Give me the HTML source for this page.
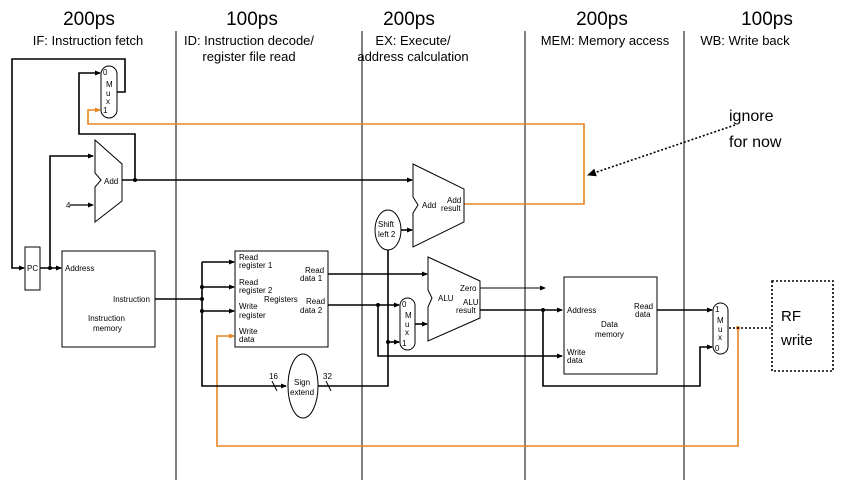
<!DOCTYPE html>
<html><head><meta charset="utf-8"><style>
html,body{margin:0;padding:0;background:#fff;}
svg{display:block;font-family:"Liberation Sans",sans-serif;}
.s{font-size:8px;fill:#000;}
</style></head><body>
<svg width="842" height="491" viewBox="0 0 842 491" xmlns="http://www.w3.org/2000/svg">
<defs>
<marker id="a" markerWidth="6" markerHeight="6" refX="5" refY="3" orient="auto" markerUnits="userSpaceOnUse"><path d="M0,0.5 L6,3 L0,5.5z" fill="#000"/></marker>
<marker id="o" markerWidth="6" markerHeight="6" refX="5" refY="3" orient="auto" markerUnits="userSpaceOnUse"><path d="M0,0.5 L6,3 L0,5.5z" fill="#e8861f"/></marker>
<marker id="d" markerWidth="10" markerHeight="10" refX="8" refY="5" orient="auto" markerUnits="userSpaceOnUse"><path d="M0,1 L9,5 L0,9z" fill="#000"/></marker>
</defs>
<!-- headers -->
<g font-size="19" text-anchor="middle">
<text x="89" y="25">200ps</text><text x="252" y="25">100ps</text><text x="409" y="25">200ps</text><text x="602" y="25">200ps</text><text x="767" y="25">100ps</text>
</g>
<g font-size="13" text-anchor="middle">
<text x="88" y="45">IF: Instruction fetch</text>
<text x="249" y="45">ID: Instruction decode/</text><text x="249" y="61">register file read</text>
<text x="413" y="45">EX: Execute/</text><text x="413" y="61">address calculation</text>
<text x="605" y="45">MEM: Memory access</text>
<text x="745" y="45">WB: Write back</text>
</g>
<g stroke="#000" stroke-width="1">
<line x1="176" y1="31" x2="176" y2="480"/><line x1="362" y1="31" x2="362" y2="480"/>
<line x1="525" y1="31" x2="525" y2="480"/><line x1="684" y1="31" x2="684" y2="480"/>
</g>
<!-- orange wires -->
<g fill="none" stroke="#e8861f" stroke-width="1.6">
<path d="M464,204 H584 V124 H88 V110 H100" marker-end="url(#o)"/>
<path d="M738,328 V446 H217 V336 H234" marker-end="url(#o)"/>
</g>
<circle cx="738" cy="328" r="2" fill="#e8861f"/>
<!-- black wires -->
<g fill="none" stroke="#000" stroke-width="1.6">
<path d="M116,92 H125 V59 H12 V268 H24" marker-end="url(#a)"/>
<path d="M40,268 H61" marker-end="url(#a)"/>
<path d="M50,268 V156 H93" marker-end="url(#a)"/>
<path d="M122,180 H412" marker-end="url(#a)"/>
<path d="M135,180 V134 H79 V73 H100" marker-end="url(#a)"/>
<path d="M155,299 H202"/>
<path d="M202,262 V386 H286" marker-end="url(#a)"/>
<path d="M202,262 H234" marker-end="url(#a)"/>
<path d="M202,287 H234" marker-end="url(#a)"/>
<path d="M202,311 H234" marker-end="url(#a)"/>
<path d="M318,386 H388 V250"/>
<path d="M388,342 H399" marker-end="url(#a)"/>
<path d="M401,230 H412" marker-end="url(#a)"/>
<path d="M328,274 H427" marker-end="url(#a)"/>
<path d="M328,305 H399" marker-end="url(#a)"/>
<path d="M378,305 V356 H562" marker-end="url(#a)"/>
<path d="M415,324 H427" marker-end="url(#a)"/>
<path d="M480,310 H562" marker-end="url(#a)"/>
<path d="M543,310 V386 H700 V347 H712" marker-end="url(#a)"/>
<path d="M657,310 H712" marker-end="url(#a)"/>
</g>
<path d="M480,288 H545" stroke="#000" stroke-width="1" fill="none" marker-end="url(#a)"/>
<path d="M70,205 H93" stroke="#000" stroke-width="1.2" fill="none" marker-end="url(#a)"/>
<g fill="#000">
<circle cx="50" cy="268" r="2"/><circle cx="135" cy="180" r="2"/><circle cx="202" cy="287" r="2"/><circle cx="202" cy="299" r="2"/><circle cx="202" cy="311" r="2"/>
<circle cx="378" cy="305" r="2"/><circle cx="388" cy="342" r="2"/><circle cx="543" cy="310" r="2"/>
</g>
<!-- slashes -->
<g stroke="#000" stroke-width="1"><line x1="272" y1="381" x2="277" y2="391"/><line x1="326" y1="381" x2="331" y2="391"/></g>
<text x="269" y="379" class="s">16</text><text x="323" y="379" class="s">32</text>
<!-- components -->
<g fill="#fff" stroke="#000" stroke-width="1">
<rect x="101" y="66" width="16" height="52" rx="8"/>
<path d="M95,140 L122,164 L122,201 L95,222 L95,187 L101,180 L95,173 Z"/>
<rect x="25" y="247" width="15" height="43"/>
<rect x="62" y="251" width="93" height="96"/>
<rect x="235" y="251" width="93" height="96"/>
<ellipse cx="303" cy="386" rx="15" ry="32"/>
<ellipse cx="388" cy="230" rx="13" ry="20"/>
<path d="M413,164 L464,189 L464,222 L413,247 L413,213 L418,205 L413,197 Z"/>
<path d="M428,257 L480,281 L480,318 L428,341 L428,307 L432,298 L428,290 Z"/>
<rect x="400" y="298" width="15" height="52" rx="7.5"/>
<rect x="564" y="277" width="93" height="97"/>
<rect x="713" y="303" width="15" height="51" rx="7.5"/>
</g>
<!-- labels -->
<g class="s" font-size="8">
<text x="103" y="75" class="s">0</text><text x="106" y="87" class="s">M</text><text x="106" y="96" class="s">u</text><text x="106" y="104" class="s">x</text><text x="103" y="113" class="s">1</text>
<text x="104" y="184" class="s">Add</text>
<text x="66" y="208" class="s">4</text>
<text x="27" y="271" class="s">PC</text>
<text x="65" y="271" class="s">Address</text>
<text x="113" y="302" class="s">Instruction</text>
<text x="88" y="321" class="s">Instruction</text><text x="93" y="331" class="s">memory</text>
<text x="239" y="260" class="s">Read</text><text x="239" y="268" class="s">register 1</text>
<text x="239" y="285" class="s">Read</text><text x="239" y="293" class="s">register 2</text>
<text x="239" y="309" class="s">Write</text><text x="239" y="318" class="s">register</text>
<text x="239" y="334" class="s">Write</text><text x="239" y="342" class="s">data</text>
<text x="264" y="302" class="s">Registers</text>
<text x="305" y="273" class="s">Read</text><text x="300" y="281" class="s">data 1</text>
<text x="306" y="304" class="s">Read</text><text x="300" y="313" class="s">data 2</text>
<text x="294" y="385" class="s">Sign</text><text x="290" y="395" class="s">extend</text>
<text x="378" y="227" class="s">Shift</text><text x="378" y="237" class="s">left 2</text>
<text x="422" y="208" class="s">Add</text><text x="447" y="203" class="s">Add</text><text x="441" y="211" class="s">result</text>
<text x="402" y="307" class="s">0</text><text x="405" y="318" class="s">M</text><text x="405" y="327" class="s">u</text><text x="405" y="335" class="s">x</text><text x="402" y="346" class="s">1</text>
<text x="438" y="301" class="s">ALU</text>
<text x="460" y="291" class="s">Zero</text>
<text x="463" y="305" class="s">ALU</text><text x="456" y="313" class="s">result</text>
<text x="567" y="313" class="s">Address</text>
<text x="601" y="327" class="s">Data</text><text x="595" y="337" class="s">memory</text>
<text x="634" y="309" class="s">Read</text><text x="635" y="317" class="s">data</text>
<text x="567" y="355" class="s">Write</text><text x="567" y="363" class="s">data</text>
<text x="715" y="312" class="s">1</text><text x="717" y="323" class="s">M</text><text x="718" y="332" class="s">u</text><text x="718" y="340" class="s">x</text><text x="715" y="351" class="s">0</text>
</g>
<!-- RF write -->
<path d="M729,328 H772" stroke="#000" stroke-width="1.6" stroke-dasharray="2,2" fill="none"/>
<rect x="772" y="281" width="61" height="90" fill="none" stroke="#000" stroke-width="1.6" stroke-dasharray="2,2"/>
<text x="781" y="321" font-size="15">RF</text>
<text x="781" y="345" font-size="15">write</text>
<!-- ignore for now -->
<text x="729" y="121" font-size="16">ignore</text>
<text x="729" y="147" font-size="16">for now</text>
<path d="M735,125 L588,175" stroke="#000" stroke-width="1.6" stroke-dasharray="2,2" fill="none" marker-end="url(#d)"/>
</svg>
</body></html>
